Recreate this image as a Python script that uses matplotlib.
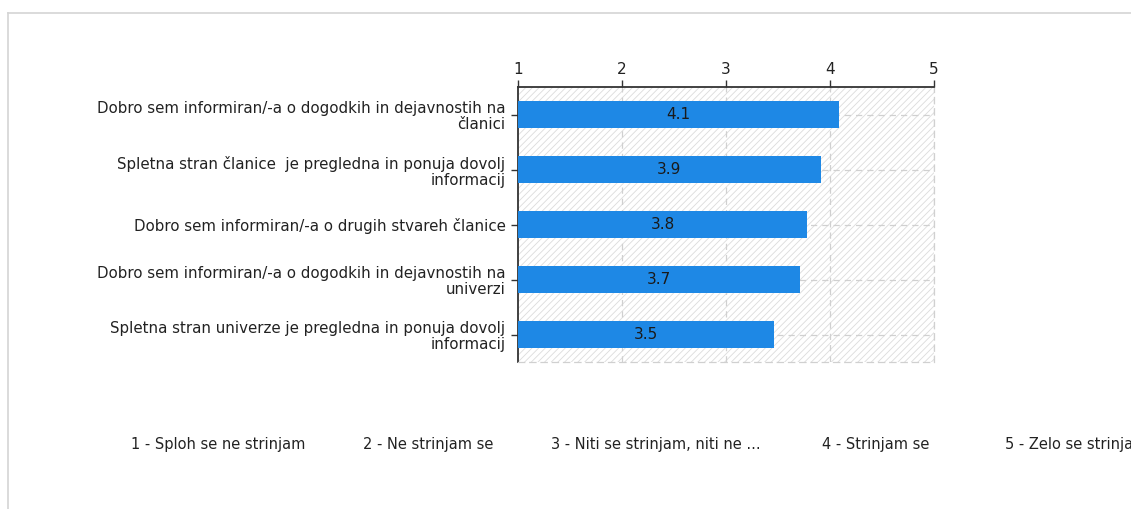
import matplotlib
matplotlib.use("Agg")
import matplotlib.pyplot as plt
from matplotlib.patches import Rectangle
from matplotlib.lines import Line2D

categories = [
    "Dobro sem informiran/-a o dogodkih in dejavnostih na\nčlanici",
    "Spletna stran članice  je pregledna in ponuja dovolj\ninformacij",
    "Dobro sem informiran/-a o drugih stvareh članice",
    "Dobro sem informiran/-a o dogodkih in dejavnostih na\nuniverzi",
    "Spletna stran univerze je pregledna in ponuja dovolj\ninformacij",
]
values = [4.09, 3.91, 3.78, 3.71, 3.46]
x_ticks = [1, 2, 3, 4, 5]
legend_labels = ["1 - Sploh se ne strinjam", "2 - Ne strinjam se",
                 "3 - Niti se strinjam, niti ne ...", "4 - Strinjam se",
                 "5 - Zelo se strinjam"]

plt.rcParams['font.family'] = ['DejaVu Sans']
plt.rcParams['hatch.linewidth'] = 0.6
plt.rcParams['hatch.color'] = '#dcdcdc'

W, H = 1131, 509
fig = plt.figure(figsize=(W/100, H/100), dpi=100)
fig.patch.set_facecolor('white')

# outer frame
fig.add_artist(Line2D([8/W, 1], [1-13/H, 1-13/H], color='#d4d4d4', lw=1.2, transform=fig.transFigure))
fig.add_artist(Line2D([8/W, 8/W], [0, 1-13/H], color='#d4d4d4', lw=1.2, transform=fig.transFigure))

ax = fig.add_axes([518/W, 1-362/H, (934-518)/W, (362-87)/H])
ax.set_xlim(1, 5)
ax.set_ylim(len(categories)-0.5, -0.5)

ax.add_patch(Rectangle((0, 0), 1, 1, transform=ax.transAxes, facecolor='white',
                       hatch='/////', edgecolor='#dcdcdc', lw=0, zorder=0))

ypos = list(range(len(categories)))
for xv in x_ticks[1:]:
    ax.axvline(xv, color='#d0d0d0', lw=0.9, ls=(0, (5, 4)), zorder=1)
for yv in ypos:
    ax.axhline(yv, color='#d0d0d0', lw=0.9, ls=(0, (5, 4)), zorder=1)

ax.barh(ypos, [v - 1 for v in values], left=1, height=0.49,
        color='#1E88E5', zorder=3)
for yv, v in zip(ypos, values):
    ax.text((1 + v) / 2, yv, f"{v:.1f}", ha='center', va='center',
            fontsize=11, color='#1a1a1a', zorder=4)

ax.xaxis.tick_top()
ax.set_xticks(x_ticks)
ax.set_xticklabels([str(t) for t in x_ticks], fontsize=11, color='#222222')
ax.set_yticks(ypos)
ax.set_yticklabels(categories, fontsize=10.8, color='#222222', linespacing=1.1)
for lab in ax.get_yticklabels():
    lab.set_multialignment('right')
ax.tick_params(axis='x', direction='out', length=5, width=1, pad=2, color='#333333')
ax.tick_params(axis='y', direction='out', length=5, width=1, pad=4, color='#333333')

ax.spines['top'].set_color('#333333')
ax.spines['top'].set_linewidth(1.3)
ax.spines['left'].set_color('#333333')
ax.spines['left'].set_linewidth(1.3)
for s in ['right', 'bottom']:
    ax.spines[s].set_color('#d0d0d0')
    ax.spines[s].set_linestyle((0, (5, 4)))
    ax.spines[s].set_linewidth(0.9)

legend_x = [131, 363, 551, 822, 1005]
for lx, lab in zip(legend_x, legend_labels):
    fig.text(lx/W, 1-445/H, lab, ha='left', va='center', fontsize=10.5, color='#222222')

fig.savefig('out.png', dpi=100)
